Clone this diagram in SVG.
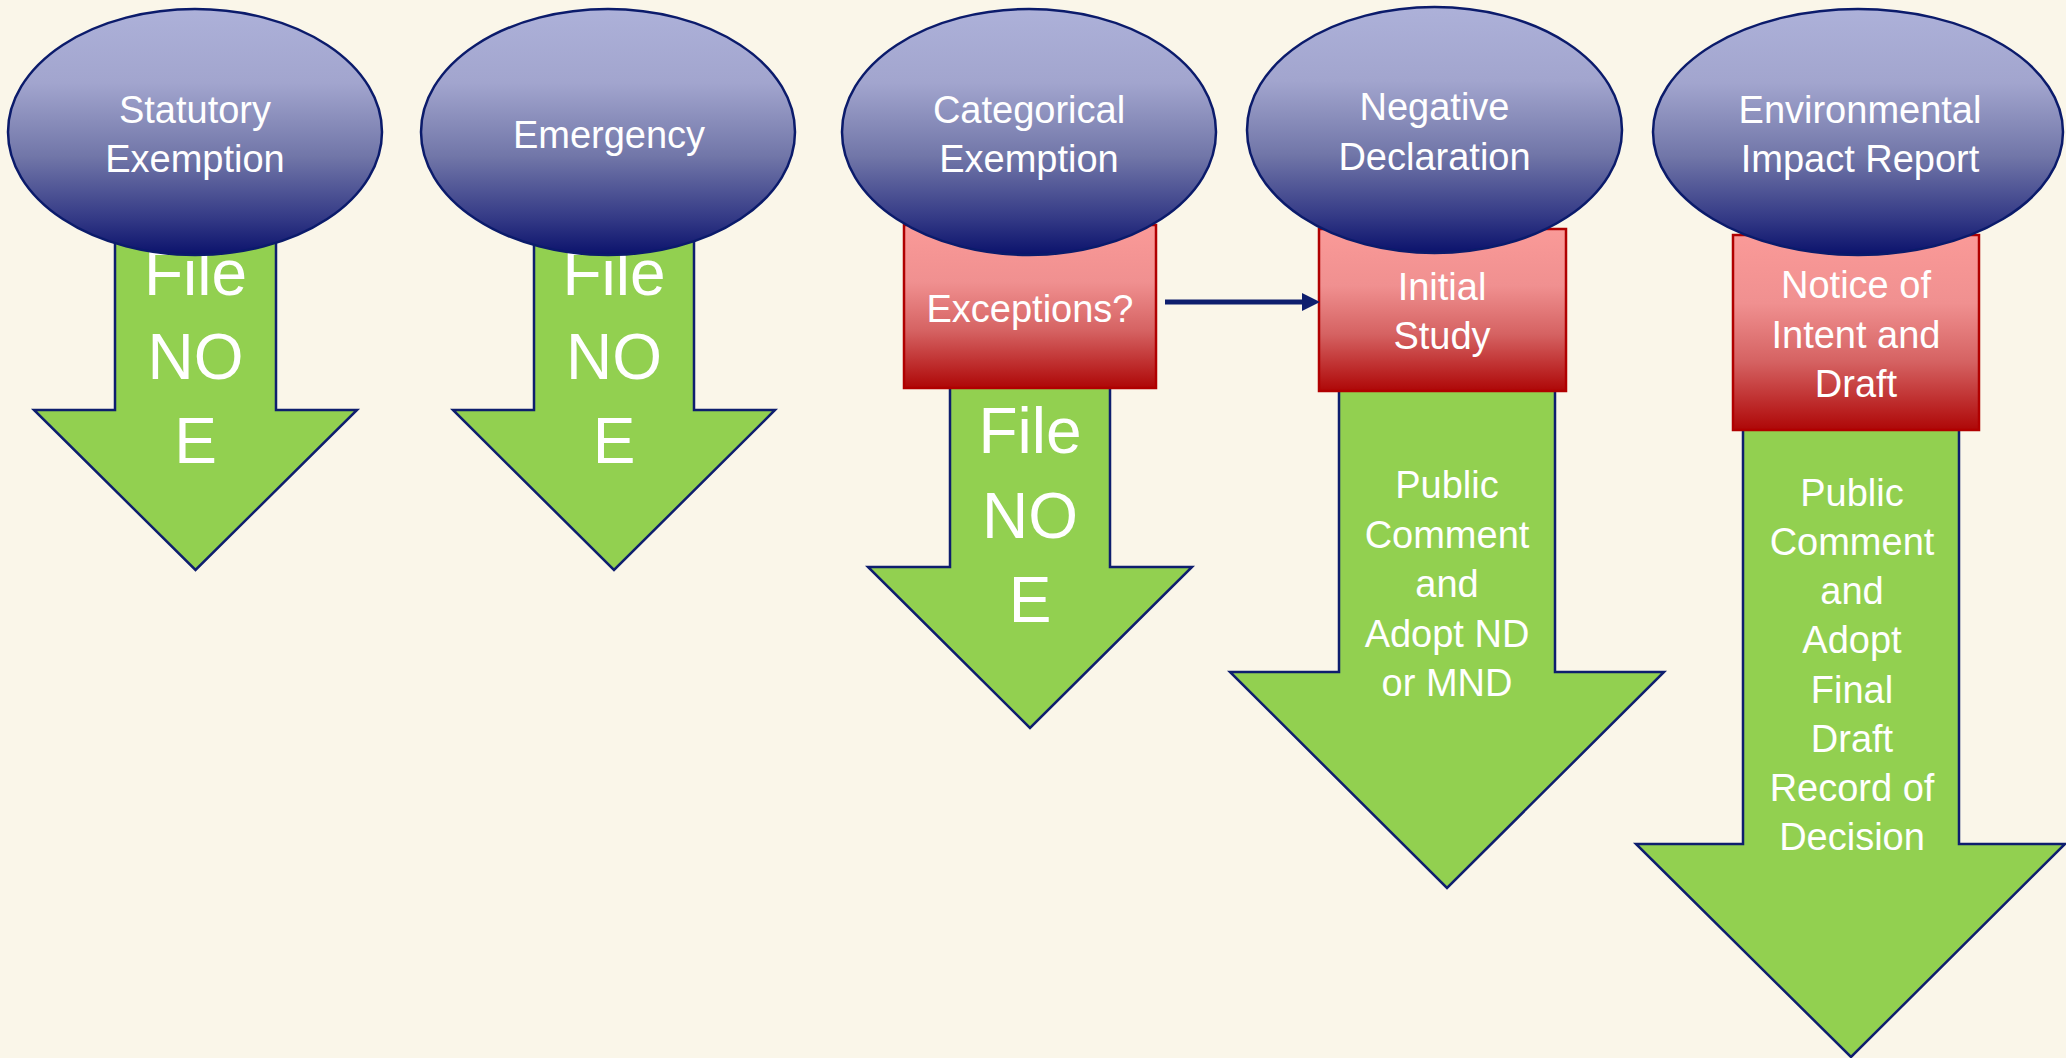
<svg xmlns="http://www.w3.org/2000/svg" width="2066" height="1058" viewBox="0 0 2066 1058">
<defs>
<linearGradient id="gEll" x1="0" y1="0" x2="0" y2="1">
<stop offset="0" stop-color="#ADB1D9"/>
<stop offset="0.3" stop-color="#A2A5CE"/>
<stop offset="0.6" stop-color="#7176A8"/>
<stop offset="0.85" stop-color="#343A86"/>
<stop offset="1" stop-color="#0B126C"/>
</linearGradient>
<linearGradient id="gBox" x1="0" y1="0" x2="0" y2="1">
<stop offset="0" stop-color="#FA9A98"/>
<stop offset="0.35" stop-color="#F09090"/>
<stop offset="0.65" stop-color="#D56262"/>
<stop offset="1" stop-color="#AE0707"/>
</linearGradient>
<marker id="ah" markerWidth="6" markerHeight="6" refX="5" refY="3" orient="auto" markerUnits="userSpaceOnUse" viewBox="0 0 6 6">
<path d="M0,0 L6,3 L0,6 Z" fill="#0E1E6E"/>
</marker>
</defs>
<style>
.bg{fill:#FAF6E9}
.arrow{fill:#92D050;stroke:#0E1E6E;stroke-width:2.5;stroke-linejoin:miter}
.ell{fill:url(#gEll);stroke:#0B1B6B;stroke-width:2.5}
.box{fill:url(#gBox);stroke:#B00000;stroke-width:2.5}
.t{fill:#FFFFFF;font-family:"Liberation Sans",Arial,sans-serif;font-size:38px;text-anchor:middle}
.big{fill:#FFFFFF;font-family:"Liberation Sans",Arial,sans-serif;font-size:64px;text-anchor:middle}
.conn{stroke:#0E1E6E;stroke-width:5;fill:none}
</style>
<rect class="bg" x="0" y="0" width="2066" height="1058"/>

<g id="arrow-statutory">
<path class="arrow" d="M115,180 L276,180 L276,410 L357,410 L195.5,570 L34,410 L115,410 Z"/>
<text class="big" x="195.5" y="295">File</text>
<text class="big" x="195.5" y="379">NO</text>
<text class="big" x="195.5" y="463">E</text>
</g>
<g id="arrow-emergency">
<path class="arrow" d="M534,180 L694,180 L694,410 L775,410 L614,570 L453,410 L534,410 Z"/>
<text class="big" x="614" y="295">File</text>
<text class="big" x="614" y="379">NO</text>
<text class="big" x="614" y="463">E</text>
</g>
<g id="arrow-categorical">
<path class="arrow" d="M950,370 L1110,370 L1110,567 L1192,567 L1030,728 L868,567 L950,567 Z"/>
<text class="big" x="1030" y="453">File</text>
<text class="big" x="1030" y="538">NO</text>
<text class="big" x="1030" y="622">E</text>
</g>
<g id="arrow-nd">
<path class="arrow" d="M1339,370 L1555,370 L1555,672 L1664,672 L1447,888 L1230,672 L1339,672 Z"/>
<text class="t" x="1447" y="498">Public</text>
<text class="t" x="1447" y="548">Comment</text>
<text class="t" x="1447" y="597">and</text>
<text class="t" x="1447" y="647">Adopt ND</text>
<text class="t" x="1447" y="696">or MND</text>
</g>
<g id="arrow-eir">
<path class="arrow" d="M1743,400 L1959,400 L1959,844 L2065,844 L1851,1057 L1636,844 L1743,844 Z"/>
<text class="t" x="1852" y="506">Public</text>
<text class="t" x="1852" y="555">Comment</text>
<text class="t" x="1852" y="604">and</text>
<text class="t" x="1852" y="653">Adopt</text>
<text class="t" x="1852" y="703">Final</text>
<text class="t" x="1852" y="752">Draft</text>
<text class="t" x="1852" y="801">Record of</text>
<text class="t" x="1852" y="850">Decision</text>
</g>

<g id="box-exceptions">
<rect class="box" x="904" y="225" width="252" height="163"/>
<text class="t" x="1030" y="322">Exceptions?</text>
</g>
<g id="box-initial-study">
<rect class="box" x="1319" y="229" width="247" height="162"/>
<text class="t" x="1442" y="300">Initial</text>
<text class="t" x="1442" y="349">Study</text>
</g>
<g id="box-notice">
<rect class="box" x="1733" y="235" width="246" height="195"/>
<text class="t" x="1856" y="298">Notice of</text>
<text class="t" x="1856" y="348">Intent and</text>
<text class="t" x="1856" y="397">Draft</text>
</g>

<g id="ell-statutory">
<ellipse class="ell" cx="195" cy="132" rx="187" ry="123"/>
<text class="t" x="195" y="123">Statutory</text>
<text class="t" x="195" y="172">Exemption</text>
</g>
<g id="ell-emergency">
<ellipse class="ell" cx="608" cy="132" rx="187" ry="123"/>
<text class="t" x="609" y="148">Emergency</text>
</g>
<g id="ell-categorical">
<ellipse class="ell" cx="1029" cy="132" rx="187" ry="123"/>
<text class="t" x="1029" y="123">Categorical</text>
<text class="t" x="1029" y="172">Exemption</text>
</g>
<g id="ell-negative">
<ellipse class="ell" cx="1434.5" cy="130" rx="187.5" ry="123"/>
<text class="t" x="1434.5" y="120">Negative</text>
<text class="t" x="1434.5" y="170">Declaration</text>
</g>
<g id="ell-eir">
<ellipse class="ell" cx="1858" cy="132" rx="205" ry="123"/>
<text class="t" x="1860" y="123">Environmental</text>
<text class="t" x="1860" y="172">Impact Report</text>
</g>

<g id="connectors">
<line class="conn" x1="1165" y1="302" x2="1304" y2="302"/>
<path d="M1302,293 L1320,302 L1302,311 Z" fill="#0E1E6E"/>
</g>
</svg>
